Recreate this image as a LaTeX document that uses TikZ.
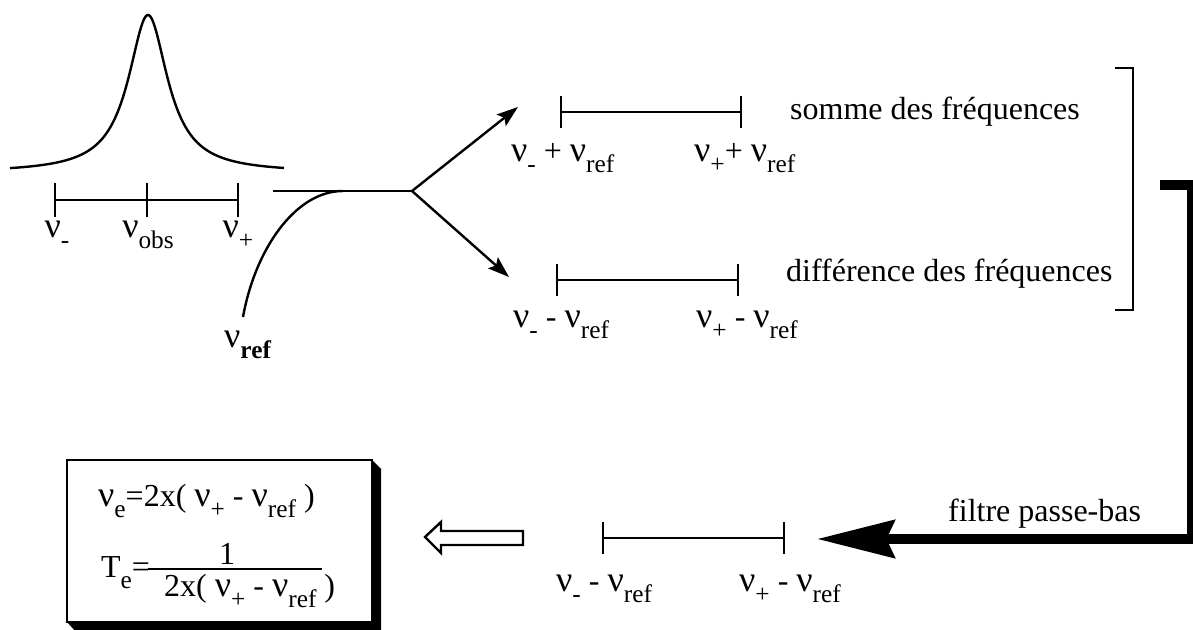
\documentclass[tikz,border=0pt]{standalone}
\usepackage{fontspec}
\setmainfont{Liberation Serif}
\usetikzlibrary{arrows.meta}
\newcommand{\lo}[1]{\raisebox{-0.33em}{\fontsize{19}{20}\selectfont #1}}
\newcommand{\nn}{{\fontsize{27}{28}\selectfont ν}}
\begin{document}
\begin{tikzpicture}[x=0.75pt,y=-0.75pt,line width=1.8pt,
  txt/.style={inner sep=0pt,anchor=base west,font=\fontsize{24}{28}\selectfont},
  lbl/.style={inner sep=0pt,anchor=base west,font=\fontsize{24}{28}\selectfont},
  splitarrow/.style={-{Stealth[length=16pt,width=11pt,inset=3pt]}},
  bigarrow/.style={line width=7.5pt,line join=miter,-{Stealth[length=58pt,width=28pt,inset=6pt]}}]
\useasboundingbox (0,0) rectangle (1193,630);

% Lorentzian line
\draw plot[domain=10:284,samples=300]
  (\x,{168-153*(1/(1+((\x-148)/24)^2)-0.03)/0.97});

% axis under the line
\coordinate (am) at (55,200);
\coordinate (ao) at (147,200);
\coordinate (ap) at (238,200);
\draw (am) -- (ap);
\foreach \c in {am,ao,ap} \draw (\c) +(0,-17) -- +(0,17);
\node[lbl,anchor=base] (lm) at (57,238) {\nn\lo{-}};
\node[lbl,anchor=base] (lo) at (148,238) {\nn\lo{obs}};
\node[lbl,anchor=base] (lp) at (238,238) {\nn\lo{+}};

% mixer
\coordinate (min) at (273,191);
\coordinate (split) at (412,191);
\coordinate (rin) at (243,317);
\coordinate (tang) at (343,191);
\draw (min) -- (split);
\draw (rin) .. controls (255,250) and (295,191) .. (tang);
\node[lbl] (nref) at (223,348) {\nn\lo{\bfseries ref}};

% split arrows
\coordinate (tipA) at (518,107);
\coordinate (tipB) at (509,277);
\draw[splitarrow] (split) -- (tipA);
\draw[splitarrow] (split) -- (tipB);

% sum interval
\coordinate (s1) at (561,112);
\coordinate (s2) at (741,112);
\draw (s1) -- (s2);
\foreach \c in {s1,s2} \draw (\c) +(0,-16) -- +(0,16);
\node[lbl] (ls1) at (510,162) {\nn\lo{-} + \nn\lo{ref}};
\node[lbl] (ls2) at (693,162) {\nn\lo{+}+ \nn\lo{ref}};
\node[txt] (somme) at (789,120) {somme des fréquences};

% difference interval
\coordinate (d1) at (557,280);
\coordinate (d2) at (738,280);
\draw (d1) -- (d2);
\foreach \c in {d1,d2} \draw (\c) +(0,-16) -- +(0,16);
\node[lbl] (ld1) at (512,328) {\nn\lo{-} - \nn\lo{ref}};
\node[lbl] (ld2) at (695,328) {\nn\lo{+} - \nn\lo{ref}};
\node[txt] (diff) at (785,282) {différence des fréquences};

% bracket
\coordinate (b1) at (1115,68);
\coordinate (b2) at (1133,68);
\coordinate (b3) at (1133,310);
\coordinate (b4) at (1115,310);
\draw (b1) -- (b2) -- (b3) -- (b4);

% low-pass thick arrow
\coordinate (f0) at (1160,185);
\coordinate (f1) at (1192,185);
\coordinate (f2) at (1192,539);
\coordinate (f3) at (817,539);
\draw[bigarrow] (f0) -- (f1) -- (f2) -- (f3);
\node[txt] (filtre) at (947,522) {filtre passe-bas};

% filtered interval
\coordinate (e1) at (603,538);
\coordinate (e2) at (784,538);
\draw (e1) -- (e2);
\foreach \c in {e1,e2} \draw (\c) +(0,-16) -- +(0,16);
\node[lbl] (le1) at (555,592) {\nn\lo{-} - \nn\lo{ref}};
\node[lbl] (le2) at (738,592) {\nn\lo{+} - \nn\lo{ref}};

% hollow arrow
\draw[fill=white,line join=miter]
  (425,537) -- (441,522) -- (441,531) -- (523,531) -- (523,545) -- (441,545) -- (441,553) -- cycle;

% result box with shadow
\fill (372,460) -- (381,469) -- (381,632) -- (76,632) -- (67,622) -- cycle;
\draw[line width=2pt,fill=white] (67,460) rectangle (372,622);
\node[txt] (f1t) at (97,507) {\nn\lo{e}=2x( \nn\lo{+} - \nn\lo{ref} )};
\node[txt] (tet) at (100,578) {T\lo{e}=};
\coordinate (fb1) at (148,569);
\coordinate (fb2) at (322,569);
\draw[line width=1.5pt] (fb1) -- (fb2);
\node[txt,anchor=base] (one) at (227,565) {1};
\node[txt] (den) at (163,597) {2x( \nn\lo{+} - \nn\lo{ref} )};
\end{tikzpicture}
\end{document}
